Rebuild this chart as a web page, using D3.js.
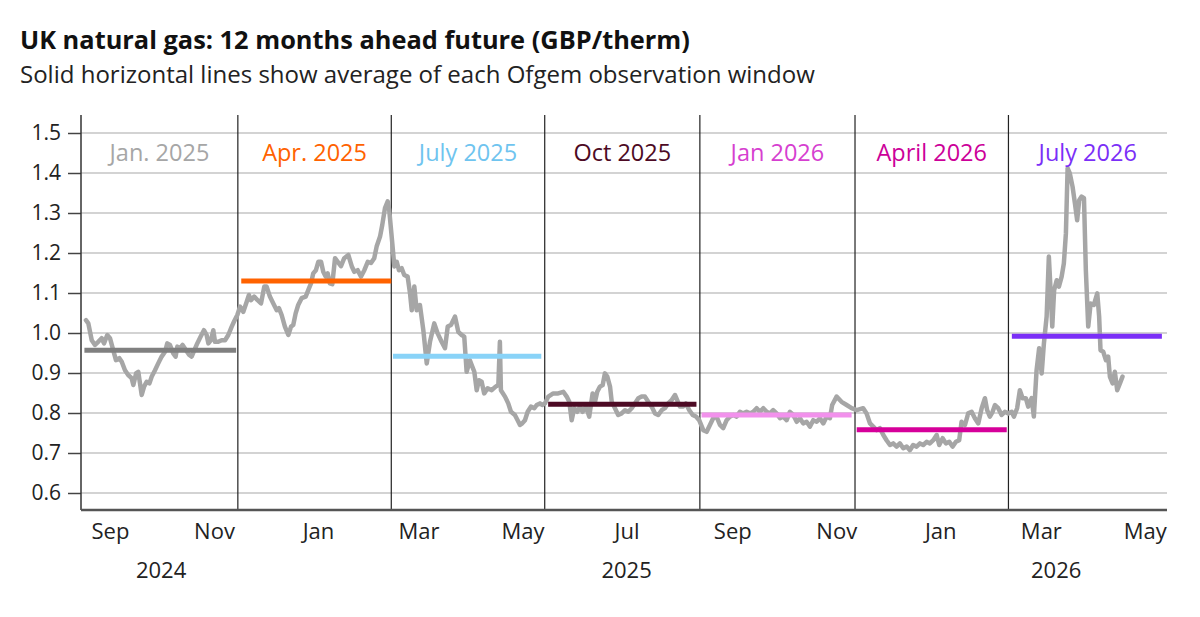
<!DOCTYPE html>
<html>
<head>
<meta charset="utf-8">
<script src="https://cdn.jsdelivr.net/npm/d3@7"></script>
<style>
  body { margin: 0; background: #ffffff; }
  svg { font-family: "Open Sans", "Noto Sans", sans-serif; }
</style>
</head>
<body>
<svg id="chart" width="1200" height="617"></svg>
<script>
// ---------------- DATA ----------------
const titleText = "UK natural gas: 12 months ahead future (GBP/therm)";
const subtitleText = "Solid horizontal lines show average of each Ofgem observation window";

// day offsets are counted from this date
const seriesStart = "2024-08-15";

// [day offset, GBP/therm]
const futurePrices = [
  [2.9,1.032],[4.3,1.024],[6.3,0.982],[8.2,0.970],[10.1,0.978],[12.1,0.987],[13.5,0.974],[15.4,0.995],
  [17.0,0.987],[18.9,0.957],[20.5,0.932],[22.5,0.937],[23.9,0.928],[25.8,0.907],[27.7,0.895],[29.7,0.887],
  [30.7,0.870],[32.3,0.899],[33.6,0.903],[34.6,0.874],[35.6,0.845],[37.0,0.866],[38.5,0.878],[40.1,0.874],
  [41.5,0.891],[43.4,0.907],[45.3,0.924],[47.3,0.941],[49.3,0.953],[50.6,0.974],[52.2,0.970],[54.1,0.949],
  [55.5,0.941],[56.5,0.966],[58.1,0.962],[59.6,0.970],[61.6,0.957],[63.5,0.945],[64.9,0.941],[66.5,0.957],
  [68.2,0.974],[70.2,0.991],[72.1,1.007],[73.7,0.995],[74.7,0.974],[76.2,0.982],[77.6,1.007],[78.6,0.978],
  [80.5,0.978],[82.5,0.982],[84.5,0.982],[86.4,0.995],[88.4,1.016],[89.7,1.028],[91.7,1.045],
  [93.3,1.066],[95.2,1.053],[97.2,1.078],[98.5,1.095],[99.7,1.082],[101.6,1.091],[103.6,1.082],[105.6,1.074],
  [107.5,1.116],[108.9,1.116],[110.8,1.091],[112.8,1.074],[114.8,1.057],[116.1,1.062],[117.7,1.045],[119.6,1.016],
  [121.6,0.995],[123.2,1.016],[124.5,1.020],[125.9,1.049],[127.4,1.070],[129.4,1.087],[131.8,1.091],[133.3,1.107],
  [134.9,1.124],[136.2,1.149],[137.8,1.157],[139.2,1.178],[140.8,1.178],[142.1,1.153],[143.5,1.141],[144.7,1.149],
  [146.0,1.124],[147.4,1.122],[149.0,1.187],[150.6,1.178],[152.5,1.167],[154.4,1.187],[156.8,1.195],[158.8,1.167],
  [160.3,1.153],[162.3,1.157],[164.2,1.141],[166.2,1.157],[168.2,1.178],[170.1,1.175],[172.0,1.187],[173.4,1.216],
  [175.4,1.241],[176.7,1.270],[178.3,1.312],[179.9,1.329],[180.8,1.307],[182.6,1.224],[183.8,1.166],
  [185.2,1.178],[186.5,1.157],[188.1,1.162],[189.6,1.145],[191.6,1.141],[193.0,1.099],[194.0,1.057],[195.5,1.116],
  [196.9,1.057],[198.8,1.070],[200.8,1.007],[202.8,0.924],[204.7,0.978],[207.2,1.024],[209.2,0.999],[211.5,0.978],
  [213.5,0.962],[215.1,1.016],[217.0,1.020],[219.4,1.041],[221.3,1.003],[223.3,0.995],[224.8,0.991],[226.2,0.903],
  [228.1,0.932],[229.5,0.916],[230.7,0.903],[232.1,0.857],[233.4,0.882],[235.0,0.878],[236.5,0.849],[238.5,0.862],
  [240.9,0.857],[243.2,0.866],[244.8,0.870],[245.7,0.978],[246.3,0.857],[248.7,0.841],[250.6,0.824],[252.2,0.803],
  [254.5,0.795],[256.1,0.782],[257.5,0.770],[258.8,0.774],[260.4,0.782],[262.0,0.803],[263.9,0.816],[265.9,0.812],
  [267.3,0.820],[269.2,0.824],[270.5,0.820],[272.1,0.824],
  [274.1,0.841],[277.0,0.849],[279.9,0.849],[282.9,0.853],[284.9,0.841],[286.4,0.828],[287.8,0.782],[289.3,0.812],
  [291.1,0.803],[292.7,0.816],[294.2,0.803],[296.2,0.816],[298.1,0.791],[300.1,0.849],[301.5,0.828],[302.8,0.853],
  [304.4,0.866],[306.0,0.870],[307.3,0.899],[308.7,0.891],[310.3,0.866],[311.3,0.828],[313.2,0.812],[315.1,0.795],
  [317.1,0.799],[319.1,0.807],[321.0,0.803],[323.0,0.812],[324.9,0.824],[326.9,0.837],[328.8,0.841],[330.8,0.841],
  [332.7,0.828],[334.7,0.816],[336.7,0.799],[338.6,0.795],[340.6,0.807],[342.5,0.812],[344.4,0.824],[346.4,0.832],
  [348.4,0.845],[349.7,0.832],[351.3,0.816],[353.2,0.816],[354.8,0.824],[356.8,0.807],[358.8,0.795],[360.7,0.791],
  [362.6,0.782],
  [365.0,0.757],[367.0,0.753],[368.9,0.770],[370.8,0.787],[372.8,0.791],[374.8,0.770],[376.7,0.762],[378.7,0.782],
  [380.6,0.791],[382.6,0.795],[384.6,0.791],[386.5,0.803],[388.4,0.799],[390.4,0.803],[392.4,0.799],[394.3,0.803],
  [396.3,0.812],[398.2,0.803],[400.2,0.812],[402.2,0.803],[404.1,0.799],[406.0,0.807],[408.0,0.799],[410.0,0.787],
  [411.9,0.791],[413.9,0.782],[415.8,0.803],[417.8,0.795],[419.8,0.778],[421.7,0.787],[423.6,0.774],[425.6,0.778],
  [427.6,0.766],[429.5,0.782],[431.5,0.778],[433.4,0.787],[435.4,0.774],[437.4,0.791],[439.3,0.787],[440.6,0.820],
  [443.2,0.841],[446.1,0.828],[449.1,0.820],[452.0,0.812],[455.0,0.807],
  [458.8,0.812],[460.8,0.799],[462.8,0.774],[464.7,0.766],[466.7,0.757],[468.6,0.762],[470.6,0.745],[472.5,0.732],
  [474.5,0.720],[476.4,0.724],[478.4,0.716],[480.3,0.724],[482.3,0.712],[484.3,0.716],[486.2,0.707],[488.1,0.720],
  [490.1,0.716],[492.1,0.724],[494.0,0.720],[496.0,0.728],[497.9,0.724],[499.9,0.732],[501.9,0.745],[503.4,0.720],
  [505.4,0.737],[507.3,0.724],[509.3,0.728],[511.2,0.716],[513.2,0.728],[515.1,0.732],[516.5,0.778],[518.5,0.770],
  [520.4,0.799],[522.4,0.803],[524.3,0.787],[526.3,0.774],[528.3,0.812],[530.2,0.837],[531.5,0.807],[533.1,0.791],
  [534.7,0.803],[536.1,0.820],[538.0,0.812],[540.0,0.795],[541.9,0.803],[543.9,0.799],
  [545.9,0.803],[547.2,0.791],[549.1,0.812],[550.7,0.857],[552.3,0.837],[554.2,0.837],[555.6,0.816],[557.6,0.837],
  [558.9,0.791],[560.5,0.907],[562.0,0.962],[563.5,0.899],[564.8,0.974],[566.4,1.041],[567.7,1.191],[568.9,1.091],
  [569.7,1.016],[570.8,1.107],[572.3,1.132],[573.6,1.116],[575.2,1.141],[576.5,1.174],[577.7,1.249],[578.7,1.412],
  [580.0,1.399],[581.6,1.366],[583.0,1.324],[584.3,1.282],[585.5,1.332],[586.9,1.341],[588.3,1.337],[589.4,1.157],
  [590.8,1.016],[592.2,1.074],[594.1,1.070],[596.1,1.099],[597.2,1.041],[598.0,0.957],[599.6,0.953],[601.2,0.932],
  [602.5,0.941],[603.5,0.891],[605.1,0.874],[606.4,0.903],[607.8,0.857],[609.4,0.874],[610.9,0.891]
];

// Ofgem observation windows
const windowNames = ["Jan. 2025", "Apr. 2025", "July 2025", "Oct 2025", "Jan 2026", "April 2026", "July 2026"];
const windowStarts = ["2024-08-17", "2024-11-17", "2025-02-14", "2025-05-16", "2025-08-14", "2025-11-13", "2026-02-12"];
const windowEnds   = ["2024-11-14", "2025-02-13", "2025-05-12", "2025-08-11", "2025-11-10", "2026-02-09", "2026-05-11"];
const windowAverages = [0.957, 1.130, 0.942, 0.822, 0.795, 0.758, 0.992];
const windowBoundaries = ["2024-11-15", "2025-02-13", "2025-05-14", "2025-08-13", "2025-11-12", "2026-02-10"];
const windowLineColors  = ["#808080", "#ff6200", "#89d3f8", "#4d0a24", "#f291ec", "#d6009a", "#7b2ff7"];
const windowLabelColors = ["#a6a6a6", "#ff6200", "#6fc4ef", "#4d0a24", "#d63fd0", "#cc0099", "#7b2ff7"];

const yTicks = [0.6, 0.7, 0.8, 0.9, 1.0, 1.1, 1.2, 1.3, 1.4, 1.5];
const xDomain = ["2024-08-15", "2026-05-14"];
const monthTicks = ["2024-09-01","2024-11-01","2025-01-01","2025-03-01","2025-05-01","2025-07-01",
                    "2025-09-01","2025-11-01","2026-01-01","2026-03-01","2026-05-01"];
const yearLabels = ["2024", "2025", "2026"];
const yearLabelDates = ["2024-10-01", "2025-07-01", "2026-03-10"];
const yDomain = [0.5575, 1.545];

// ---------------- CHART ----------------
const parse = d3.timeParse("%Y-%m-%d");
const svg = d3.select("#chart");
const plot = { left: 81, right: 1167, top: 115, bottom: 510 };

const x = d3.scaleTime().domain(xDomain.map(parse)).range([plot.left, plot.right]);
const y = d3.scaleLinear().domain(yDomain).range([plot.bottom, plot.top]);
const t0 = parse(seriesStart);
const toDate = d => new Date(t0.getTime() + d * 86400000);

// fit a text element horizontally to a target width by adjusting font size
function fitWidth(sel, target) {
  const w = sel.node().getComputedTextLength();
  const fs = parseFloat(sel.attr("font-size"));
  if (w > 0) sel.attr("font-size", fs * target / w);
}

// title / subtitle
const title = svg.append("text").attr("x", 20).attr("y", 49)
  .attr("font-size", 22).attr("font-weight", "bold").attr("fill", "#111").text(titleText);
fitWidth(title, 670);
const subtitle = svg.append("text").attr("x", 20).attr("y", 83)
  .attr("font-size", 20).attr("fill", "#222").text(subtitleText);
fitWidth(subtitle, 795);

// gridlines
svg.append("g").selectAll("line").data(yTicks).join("line")
  .attr("x1", plot.left).attr("x2", plot.right)
  .attr("y1", d => y(d)).attr("y2", d => y(d))
  .attr("stroke", "#c4c4c4").attr("stroke-width", 1.5);

// y axis
const yAxis = d3.axisLeft(y).tickValues(yTicks).tickFormat(d3.format(".1f")).tickSize(13).tickPadding(7);
const gy = svg.append("g").attr("transform", `translate(${plot.left},0)`).call(yAxis);
gy.select(".domain").remove();
gy.selectAll(".tick line").attr("stroke", "#444").attr("stroke-width", 1.5);
gy.selectAll(".tick text").attr("font-size", 21).attr("fill", "#222")
  .attr("font-family", "Open Sans, Noto Sans, sans-serif");
svg.append("line").attr("x1", plot.left).attr("x2", plot.left)
  .attr("y1", plot.top).attr("y2", plot.bottom).attr("stroke", "#333").attr("stroke-width", 1.5);

// window boundary lines
svg.append("g").selectAll("line").data(windowBoundaries).join("line")
  .attr("x1", d => x(parse(d))).attr("x2", d => x(parse(d)))
  .attr("y1", plot.top).attr("y2", plot.bottom)
  .attr("stroke", "#222").attr("stroke-width", 1.2);

// x axis
const xAxis = d3.axisBottom(x).tickValues(monthTicks.map(parse))
  .tickFormat(d3.timeFormat("%b")).tickSize(0).tickPadding(13);
const gx = svg.append("g").attr("transform", `translate(0,${plot.bottom})`).call(xAxis);
gx.select(".domain").attr("stroke", "#555").attr("stroke-width", 2.5)
  .attr("d", `M${plot.left},0H${plot.right}`);
gx.selectAll(".tick text").attr("font-size", 22).attr("fill", "#222")
  .attr("font-family", "Open Sans, Noto Sans, sans-serif");

svg.append("g").selectAll("text").data(yearLabels).join("text")
  .attr("x", (d, i) => x(parse(yearLabelDates[i])))
  .attr("y", 578).attr("text-anchor", "middle")
  .attr("font-size", 22).attr("fill", "#222").text(d => d);

// data line
const line = d3.line().x(d => x(toDate(d[0]))).y(d => y(d[1]));
svg.append("path").datum(futurePrices)
  .attr("d", line).attr("fill", "none")
  .attr("stroke", "#a6a6a6").attr("stroke-width", 4.5)
  .attr("stroke-linejoin", "round").attr("stroke-linecap", "round");

// window averages
svg.append("g").selectAll("line").data(windowAverages).join("line")
  .attr("x1", (d, i) => x(parse(windowStarts[i])))
  .attr("x2", (d, i) => x(parse(windowEnds[i])))
  .attr("y1", d => y(d)).attr("y2", d => y(d))
  .attr("stroke", (d, i) => windowLineColors[i]).attr("stroke-width", 5);

// window labels
svg.append("g").selectAll("text").data(windowNames).join("text")
  .attr("x", (d, i) => {
    const a = i === 0 ? parse(xDomain[0]) : parse(windowBoundaries[i - 1]);
    const b = i === windowNames.length - 1 ? parse(xDomain[1]) : parse(windowBoundaries[i]);
    return (x(a) + x(b)) / 2;
  })
  .attr("y", 161).attr("text-anchor", "middle")
  .attr("font-size", 23.5).attr("fill", (d, i) => windowLabelColors[i]).text(d => d);
</script>
</body>
</html>
